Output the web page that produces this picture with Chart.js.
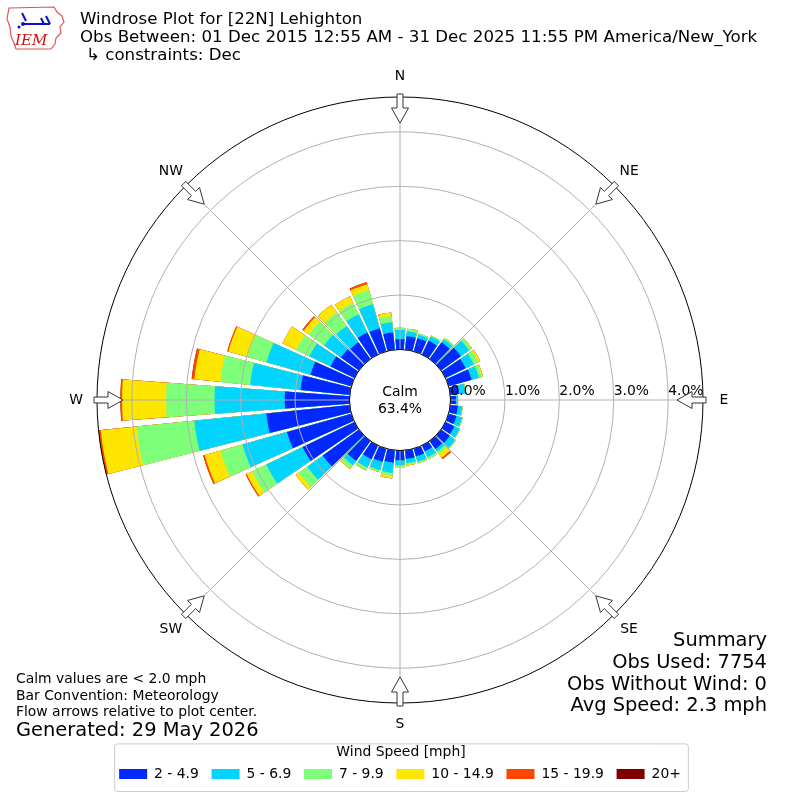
<!DOCTYPE html>
<html>
<head>
<meta charset="utf-8">
<script src="https://cdn.jsdelivr.net/npm/chart.js@4.4.1/dist/chart.umd.min.js"></script>
<style>
  html, body { margin: 0; padding: 0; background: #fff; }
  #wrap { position: relative; width: 800px; height: 800px; font-family: 'DejaVu Sans', sans-serif; color: #000; }
  #wrap canvas { position: absolute; left: 0; top: 0; }
  .t { position: absolute; white-space: nowrap; line-height: 1; }
</style>
</head>
<body>
<div id="wrap">
  <canvas id="rose" width="800" height="800"></canvas>
  <svg style="position:absolute;left:4px;top:3px" width="64" height="48" viewBox="0 0 64 48">
    <path d="M5 5 L50 4 L53 9 L58 13 L60 19 L56 24 L57 30 L52 35 L51 41 L47 46 L12 46 L10 40 L7 33 L6 24 L3 16 Z" fill="none" stroke="#d55" stroke-width="1.2"/>
    <line x1="20" y1="21" x2="46" y2="21" stroke="#1010c8" stroke-width="2"/>
    <path d="M46 21 L42 13 M40 21 L37 15 M18 10 L22 18" stroke="#1010c8" stroke-width="2" fill="none"/>
    <circle cx="19" cy="21" r="2" fill="#1010c8"/>
    <circle cx="15" cy="24" r="1.5" fill="#1010c8"/>
    <text x="11" y="42" font-family="'DejaVu Serif', 'Liberation Serif', serif" font-style="italic" font-size="15" fill="#d01010">IEM</text>
  </svg>
  <div class="t" style="left:80px; top:10.9px; font-size:16.67px;">Windrose Plot for [22N] Lehighton</div>
  <div class="t" style="left:80px; top:28.9px; font-size:16.67px;">Obs Between: 01 Dec 2015 12:55 AM - 31 Dec 2025 11:55 PM America/New_York</div>
  <div class="t" style="left:86px; top:46.9px; font-size:16.67px;">↳ constraints: Dec</div>

  <div class="t" style="right:33px; top:629.8px; font-size:19.44px;">Summary</div>
  <div class="t" style="right:33px; top:651.8px; font-size:19.44px;">Obs Used: 7754</div>
  <div class="t" style="right:33px; top:673.8px; font-size:19.44px;">Obs Without Wind: 0</div>
  <div class="t" style="right:33px; top:694.8px; font-size:19.44px;">Avg Speed: 2.3 mph</div>

  <div class="t" style="left:16px; top:672.2px; font-size:13.9px;">Calm values are &lt; 2.0 mph</div>
  <div class="t" style="left:16px; top:689.2px; font-size:13.9px;">Bar Convention: Meteorology</div>
  <div class="t" style="left:16px; top:705.2px; font-size:13.9px;">Flow arrows relative to plot center.</div>
  <div class="t" style="left:16px; top:719.8px; font-size:19.44px;">Generated: 29 May 2026</div>
</div>
<script>
// wind direction of each bar, degrees clockwise from north
const directions = [0, 10, 20, 30, 40, 50, 60, 70, 80, 90, 100, 110, 120, 130, 140, 150, 160, 170,
  180, 190, 200, 210, 220, 230, 240, 250, 260, 270, 280, 290, 300, 310, 320, 330, 340, 350];

const speedBins = ['2 - 4.9', '5 - 6.9', '7 - 9.9', '10 - 14.9', '15 - 19.9', '20+'];
const binColors = ['#0028ff', '#00d4ff', '#7dff7a', '#ffe600', '#ff4500', '#800000'];

// percent of observations per direction, one list per speed bin
const pct2to5 = [0.19, 0.25, 0.25, 0.28, 0.38, 0.45, 0.41, 0.44, 0.16, 0.10, 0.14, 0.15, 0.18, 0.20, 0.18, 0.12, 0.15, 0.16,
  0.18, 0.23, 0.25, 0.28, 0.45, 0.82, 1.06, 1.23, 1.54, 1.19, 0.91, 0.78, 0.49, 0.41, 0.38, 0.45, 0.44, 0.32];
const pct5to7 = [0.17, 0.09, 0.07, 0.09, 0.07, 0.19, 0.17, 0.14, 0.12, 0.04, 0.08, 0.11, 0.11, 0.12, 0.06, 0.12, 0.10, 0.08,
  0.09, 0.19, 0.16, 0.17, 0.10, 0.35, 0.74, 0.85, 1.33, 1.29, 0.93, 0.84, 0.43, 0.38, 0.37, 0.37, 0.46, 0.19];
const pct7to10 = [0.04, 0.04, 0.02, 0.02, 0.03, 0.05, 0.09, 0.06, 0.01, 0.00, 0.01, 0.01, 0.01, 0.02, 0.05, 0.04, 0.03, 0.02,
  0.03, 0.05, 0.03, 0.05, 0.07, 0.19, 0.29, 0.42, 1.07, 0.89, 0.55, 0.36, 0.27, 0.34, 0.31, 0.23, 0.27, 0.11];
const pct10to15 = [0, 0.01, 0, 0, 0, 0.01, 0.04, 0.02, 0, 0, 0, 0, 0, 0, 0.09, 0, 0, 0.02,
  0.02, 0.05, 0.01, 0.01, 0.02, 0.07, 0.11, 0.30, 0.66, 0.81, 0.48, 0.37, 0.28, 0.12, 0.17, 0.14, 0.11, 0.07];
const pct15to20 = [0, 0, 0, 0, 0, 0, 0, 0, 0, 0, 0, 0, 0, 0, 0.03, 0, 0, 0,
  0, 0, 0, 0, 0, 0, 0.02, 0.03, 0.04, 0.03, 0.05, 0.02, 0, 0.03, 0, 0, 0.04, 0];
const pct20up = [0, 0, 0, 0, 0, 0, 0, 0, 0, 0, 0, 0, 0, 0, 0, 0, 0, 0,
  0, 0, 0, 0, 0, 0, 0, 0, 0, 0, 0, 0, 0, 0, 0, 0, 0, 0];

const calmPct = 63.4;
const rTicks = [0, 1, 2, 3, 4];
const compass = ['N', 'NE', 'E', 'SE', 'S', 'SW', 'W', 'NW'];

const BAR_DEG = 8.5;   // angular width of a bar
const GAP_DEG = 1.5;   // white gap between bars
const FONT = "'DejaVu Sans', sans-serif";

// stack the bins: each dataset holds the running total out to its bin
const bins = [pct2to5, pct5to7, pct7to10, pct10to15, pct15to20, pct20up];
const cumulative = [];
let running = directions.map(() => 0);
bins.forEach(b => {
  running = running.map((v, i) => v + b[i]);
  cumulative.push(running);
});
const rMax = Math.max(...running);

// every direction gets a bar slot followed by an empty gap slot
const withGaps = arr => arr.flatMap(v => [v, 0]);
const labels = directions.flatMap(d => [d + '°', '']);

const datasets = bins.map((b, k) => ({
  label: speedBins[k],
  data: withGaps(cumulative[k]),
  backgroundColor: ctx => (ctx.dataIndex % 2 ? 'rgba(0,0,0,0)' : binColors[k]),
  borderWidth: 0,
  angle: ctx => (ctx.dataIndex % 2 ? GAP_DEG : BAR_DEG)
}));

function drawArrow(ctx, cx, cy, deg, rTip, rHead, rTail) {
  const a = (deg - 90) * Math.PI / 180;
  const ux = Math.cos(a), uy = Math.sin(a);
  const px = -uy, py = ux;
  const pt = (r, w) => [cx + ux * r + px * w, cy + uy * r + py * w];
  const pts = [pt(rTail, -3), pt(rHead, -3), pt(rHead, -8.5), pt(rTip, 0), pt(rHead, 8.5), pt(rHead, 3), pt(rTail, 3)];
  ctx.beginPath();
  pts.forEach((p, i) => (i ? ctx.lineTo(p[0], p[1]) : ctx.moveTo(p[0], p[1])));
  ctx.closePath();
  ctx.fillStyle = '#fff';
  ctx.fill();
  ctx.strokeStyle = '#333';
  ctx.lineWidth = 1;
  ctx.stroke();
}

const windroseDecor = {
  id: 'windroseDecor',
  afterDatasetsDraw(chart) {
    const s = chart.scales.r;
    const ctx = chart.ctx;
    ctx.save();
    ctx.strokeStyle = '#b0b0b0';
    ctx.lineWidth = 1;
    compass.forEach((c, k) => {
      const a = (k * 45 - 90) * Math.PI / 180;
      ctx.beginPath();
      ctx.moveTo(s.xCenter, s.yCenter);
      ctx.lineTo(s.xCenter + Math.cos(a) * s.drawingArea, s.yCenter + Math.sin(a) * s.drawingArea);
      ctx.stroke();
    });
    ctx.restore();
  },
  afterDraw(chart) {
    const s = chart.scales.r;
    const ctx = chart.ctx;
    const cx = s.xCenter, cy = s.yCenter, R = s.drawingArea;
    const r0 = s.getDistanceFromCenterForValue(0);
    ctx.save();
    // calm circle
    ctx.beginPath();
    ctx.arc(cx, cy, r0, 0, Math.PI * 2);
    ctx.fillStyle = '#fff';
    ctx.fill();
    ctx.strokeStyle = '#000';
    ctx.lineWidth = 1;
    ctx.stroke();
    ctx.fillStyle = '#000';
    ctx.font = '13.9px ' + FONT;
    ctx.textAlign = 'center';
    ctx.textBaseline = 'alphabetic';
    ctx.fillText('Calm', cx, cy - 4);
    ctx.fillText(calmPct.toFixed(1) + '%', cx, cy + 13);
    // radial tick labels along the east axis
    ctx.textAlign = 'left';
    rTicks.forEach(v => {
      ctx.fillText(v.toFixed(1) + '%', cx + s.getDistanceFromCenterForValue(v), cy - 5);
    });
    // compass labels and flow arrows
    ctx.textAlign = 'center';
    ctx.textBaseline = 'middle';
    compass.forEach((c, k) => {
      const a = (k * 45 - 90) * Math.PI / 180;
      ctx.fillStyle = '#000';
      ctx.fillText(c, cx + Math.cos(a) * (R + 21), cy + Math.sin(a) * (R + 21));
      drawArrow(ctx, cx, cy, k * 45, R - 26, R - 11, R + 3);
    });
    // title and frame round the legend
    const lg = chart.legend;
    const hb = lg.legendHitBoxes;
    if (hb && hb.length) {
      const last = hb[hb.length - 1];
      const x0 = hb[0].left - 5, x1 = last.left + last.width + 7;
      const y0 = lg.top - 11, y1 = lg.bottom;
      ctx.beginPath();
      ctx.roundRect(x0 + 0.5, y0 + 0.5, x1 - x0, y1 - y0, 3);
      ctx.strokeStyle = '#cccccc';
      ctx.stroke();
      ctx.fillStyle = '#000';
      ctx.fillText('Wind Speed [mph]', (x0 + x1) / 2, lg.top - 2);
    }
    ctx.restore();
  }
};

Chart.defaults.font.family = FONT;
Chart.defaults.color = '#000';

new Chart(document.getElementById('rose'), {
  type: 'polarArea',
  data: { labels: labels, datasets: datasets },
  options: {
    responsive: false,
    animation: false,
    devicePixelRatio: 1,
    layout: { padding: { left: 97, right: 97, top: 46, bottom: 9 } },
    plugins: {
      legend: {
        position: 'bottom',
        labels: {
          boxWidth: 28,
          boxHeight: 10,
          padding: 12.7,
          color: '#000',
          font: { size: 13.9 },
          generateLabels: chart => chart.data.datasets.map((ds, i) => ({
            text: ds.label,
            fillStyle: binColors[i],
            strokeStyle: binColors[i],
            lineWidth: 0,
            hidden: false,
            datasetIndex: i
          }))
        }
      },
      tooltip: { enabled: false }
    },
    scales: {
      r: {
        min: -rMax / 5,
        max: rMax,
        startAngle: -BAR_DEG / 2,
        ticks: { display: false },
        afterBuildTicks: scale => {
          scale.ticks = rTicks.concat([rMax]).map(v => ({ value: v }));
        },
        grid: {
          circular: true,
          z: 1,
          lineWidth: 1,
          color: ctx => (ctx.tick && ctx.tick.value === rMax ? '#000' : '#b0b0b0')
        },
        angleLines: { display: false },
        pointLabels: { display: false }
      }
    }
  },
  plugins: [windroseDecor]
});
</script>
</body>
</html>
